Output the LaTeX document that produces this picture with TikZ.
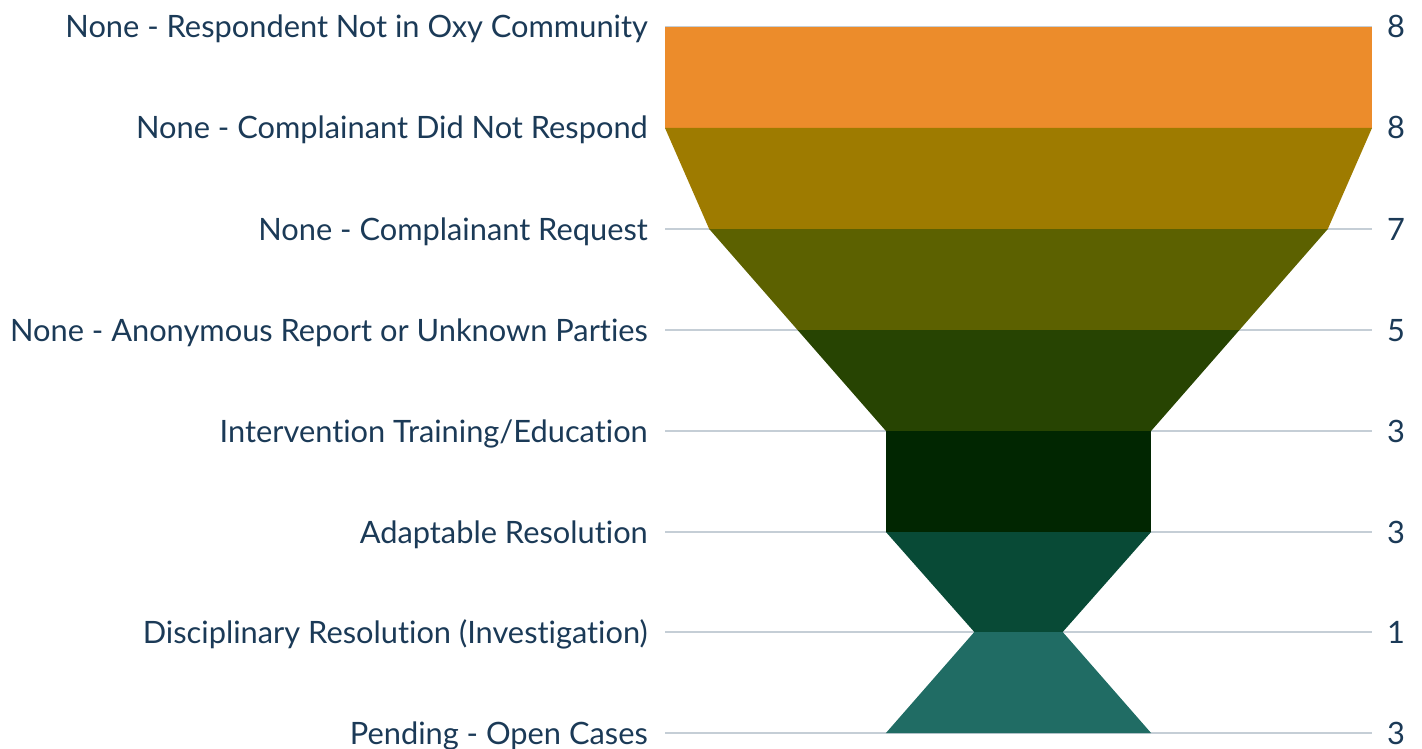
\documentclass[tikz,border=0pt]{standalone}
\usepackage{fontspec}
\setmainfont{Lato}[Ligatures={NoCommon}]
\begin{document}
\begin{tikzpicture}[x=1pt,y=-1pt,
  lbl/.style={anchor=base east,inner sep=0pt,text=txt,font=\fontsize{30.8}{30.8}\selectfont},
  val/.style={anchor=base west,inner sep=0pt,text=txt,font=\fontsize{30.8}{30.8}\selectfont},
  grid/.style={draw=gridc,line width=1.6pt}]
\definecolor{txt}{HTML}{1B3A57}
\definecolor{gridc}{HTML}{C5CED6}
\definecolor{c1}{HTML}{EC8C2B}
\definecolor{c2}{HTML}{9E7B00}
\definecolor{c3}{HTML}{5C6100}
\definecolor{c4}{HTML}{274402}
\definecolor{c5}{HTML}{012601}
\definecolor{c6}{HTML}{084A36}
\definecolor{c7}{HTML}{206C64}
\useasboundingbox (0,0) rectangle (1422,749);
% gridlines
\foreach \y in {27,128,229,330,431,532,632,733}{
  \draw[grid] (665,\y) -- (1372,\y);
}
% funnel (center 1018.5, half-width 44.1875 per unit)
\def\cx{1018.5}
\def\u{44.1875}
\fill[c1] ({\cx-8*\u},27) -- ({\cx+8*\u},27) -- ({\cx+8*\u},128) -- ({\cx-8*\u},128) -- cycle;
\fill[c2] ({\cx-8*\u},128) -- ({\cx+8*\u},128) -- ({\cx+7*\u},229) -- ({\cx-7*\u},229) -- cycle;
\fill[c3] ({\cx-7*\u},229) -- ({\cx+7*\u},229) -- ({\cx+5*\u},330) -- ({\cx-5*\u},330) -- cycle;
\fill[c4] ({\cx-5*\u},330) -- ({\cx+5*\u},330) -- ({\cx+3*\u},431) -- ({\cx-3*\u},431) -- cycle;
\fill[c5] ({\cx-3*\u},431) -- ({\cx+3*\u},431) -- ({\cx+3*\u},532) -- ({\cx-3*\u},532) -- cycle;
\fill[c6] ({\cx-3*\u},532) -- ({\cx+3*\u},532) -- ({\cx+1*\u},632) -- ({\cx-1*\u},632) -- cycle;
\fill[c7] ({\cx-1*\u},632) -- ({\cx+1*\u},632) -- ({\cx+3*\u},733) -- ({\cx-3*\u},733) -- cycle;
% labels
\node[lbl] (l1) at (648,38) {None - Respondent Not in Oxy Community};
\node[lbl] (l2) at (648,139) {None - Complainant Did Not Respond};
\node[lbl] (l3) at (648,240) {None - Complainant Request};
\node[lbl] (l4) at (648,341) {None - Anonymous Report or Unknown Parties};
\node[lbl] (l5) at (648,442) {Intervention Training/Education};
\node[lbl] (l6) at (648,543) {Adaptable Resolution};
\node[lbl] (l7) at (648,643) {Disciplinary Resolution (Investigation)};
\node[lbl] (l8) at (648,744) {Pending - Open Cases};
% values
\node[val] (v1) at (1387,38) {8};
\node[val] (v2) at (1387,139) {8};
\node[val] (v3) at (1387,240) {7};
\node[val] (v4) at (1387,341) {5};
\node[val] (v5) at (1387,442) {3};
\node[val] (v6) at (1387,543) {3};
\node[val] (v7) at (1387,643) {1};
\node[val] (v8) at (1387,744) {3};
\end{tikzpicture}
\end{document}
